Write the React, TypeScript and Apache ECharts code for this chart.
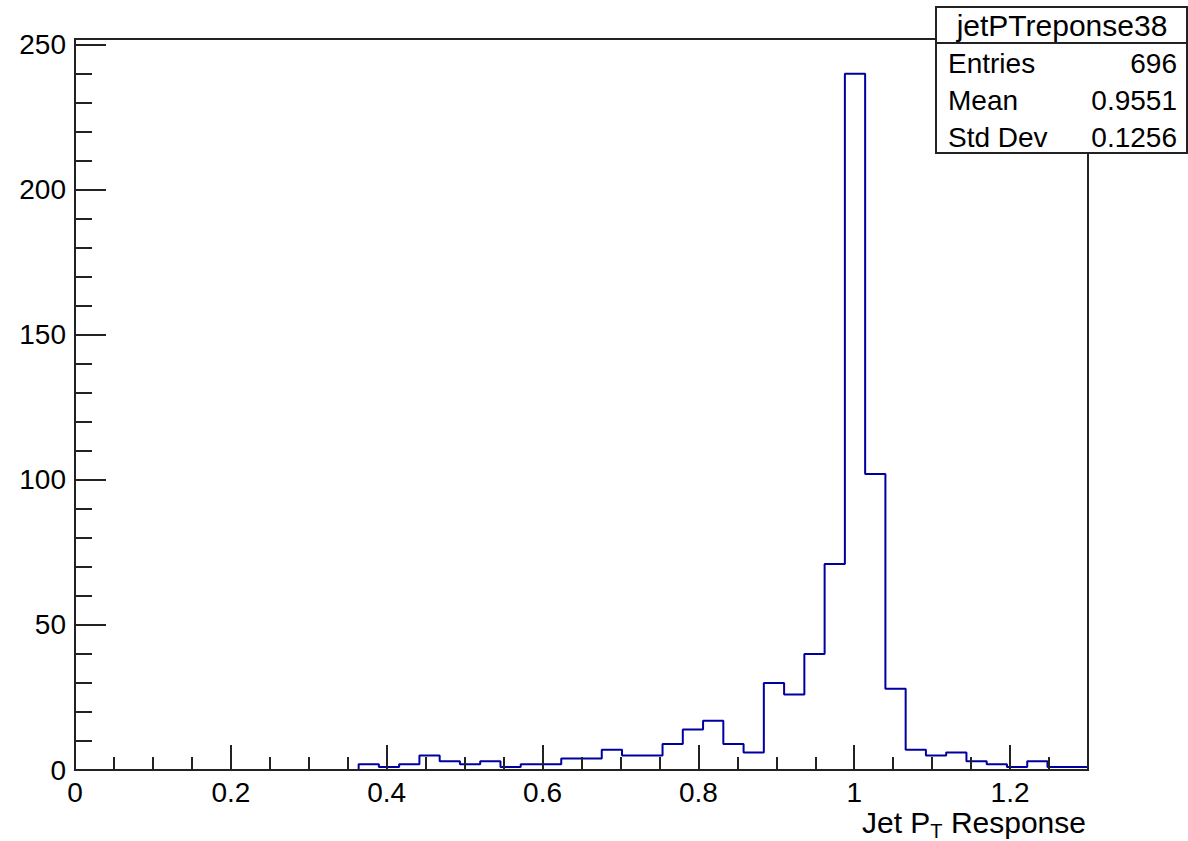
import React, { useEffect, useRef } from "react";
import * as echarts from "echarts";

// Histogram: 50 bins from 0 to 1.3
const xMin = 0;
const xMax = 1.3;
const nBins = 50;
const counts: number[] = [
  0, 0, 0, 0, 0, 0, 0, 0, 0, 0,
  0, 0, 0, 0, 2, 1, 2, 5, 3, 2,
  3, 1, 2, 2, 4, 4, 7, 5, 5, 9,
  14, 17, 9, 6, 30, 26, 40, 71, 240, 102,
  28, 7, 5, 6, 3, 2, 1, 3, 1, 1,
];
const xTickValues = [0, 0.2, 0.4, 0.6, 0.8, 1, 1.2];
const yTickValues = [0, 50, 100, 150, 200, 250];
const yMax = 252;

const statsTitle = "jetPTreponse38";
const statsNames = ["Entries", "Mean", "Std Dev"];
const statsValues = ["696", "0.9551", "0.1256"];

const FONT = "'Liberation Sans', Arial, Helvetica, sans-serif";

export default function App() {
  const ref = useRef<HTMLDivElement>(null);
  useEffect(() => {
    if (!ref.current) return;
    const chart = echarts.init(ref.current, undefined, { renderer: "svg" });
    const bw = (xMax - xMin) / nBins;
    const pts: number[][] = counts.map((c, i) => [xMin + i * bw, c]);
    pts.push([xMax, counts[counts.length - 1]]);

    const isTick = (v: number, list: number[]) => list.some((t) => Math.abs(t - v) < 1e-6);

    const gridLeft = 75, gridRight = 100, gridTop = 39, gridBottom = 71;

    const statsRows: any[] = [];
    const rowY = [63, 100, 137];
    statsNames.forEach((n, i) => {
      statsRows.push({
        type: "text", z: 101, x: 948, y: rowY[i],
        style: { text: n, fontSize: 28, fontFamily: FONT, fill: "#000", textAlign: "left", textVerticalAlign: "middle" },
      });
      statsRows.push({
        type: "text", z: 101, x: 1177, y: rowY[i],
        style: { text: statsValues[i], fontSize: 28, fontFamily: FONT, fill: "#000", textAlign: "right", textVerticalAlign: "middle" },
      });
    });

    chart.setOption({
      animation: false,
      grid: {
        left: gridLeft, right: gridRight, top: gridTop, bottom: gridBottom,
        show: true, borderColor: "#222", borderWidth: 2, backgroundColor: "transparent",
      },
      xAxis: [
        {
          type: "value", min: xMin, max: xMax, interval: 0.2, position: "bottom", z: 10,
          axisLine: { show: true, lineStyle: { color: "#222", width: 2 } },
          axisTick: { show: true, inside: true, length: 25, lineStyle: { color: "#222", width: 2 } },
          axisLabel: {
            show: true, fontSize: 28, fontFamily: FONT, color: "#000", margin: 8,
            formatter: (v: number) => (isTick(v, xTickValues) ? String(+v.toFixed(1)) : ""),
          },
          splitLine: { show: false },
        },
        {
          type: "value", min: xMin, max: xMax, interval: 0.05, position: "bottom", z: 10,
          axisLine: { show: false },
          axisTick: { show: true, inside: true, length: 13, lineStyle: { color: "#222", width: 2 } },
          axisLabel: { show: false },
          splitLine: { show: false },
        },
      ],
      yAxis: [
        {
          type: "value", min: 0, max: yMax, interval: 50, position: "left", z: 10,
          axisLine: { show: true, lineStyle: { color: "#222", width: 2 } },
          axisTick: { show: true, inside: true, length: 31, lineStyle: { color: "#222", width: 2 } },
          axisLabel: {
            show: true, fontSize: 28, fontFamily: FONT, color: "#000", margin: 9,
            formatter: (v: number) => (isTick(v, yTickValues) ? String(Math.round(v)) : ""),
          },
          splitLine: { show: false },
        },
        {
          type: "value", min: 0, max: yMax, interval: 10, position: "left", z: 10,
          axisLine: { show: false },
          axisTick: { show: true, inside: true, length: 17, lineStyle: { color: "#222", width: 2 } },
          axisLabel: { show: false },
          splitLine: { show: false },
        },
      ],
      series: [
        {
          type: "line",
          xAxisIndex: 0, yAxisIndex: 0,
          data: pts,
          step: "end",
          symbol: "none",
          clip: true,
          z: 2,
          lineStyle: { color: "#0000a0", width: 2 },
        },
      ],
      graphic: [
        {
          type: "text", z: 100, x: 1086, y: 822,
          style: {
            text: "{a|Jet P}{s|T}{a| Response}",
            textAlign: "right", textVerticalAlign: "middle",
            rich: {
              a: { fontSize: 30, fontFamily: FONT, fill: "#000", lineHeight: 32 },
              s: { fontSize: 20, fontFamily: FONT, fill: "#000", lineHeight: 32, padding: [18, 0, 0, 0] },
            },
          },
        },
        {
          type: "rect", z: 100,
          shape: { x: 936, y: 7, width: 251, height: 146 },
          style: { fill: "#fff", stroke: "#222", lineWidth: 2 },
        },
        {
          type: "line", z: 101,
          shape: { x1: 936, y1: 43, x2: 1187, y2: 43 },
          style: { stroke: "#222", lineWidth: 2 },
        },
        {
          type: "text", z: 101, x: 1062, y: 25,
          style: { text: statsTitle, fontSize: 30, fontFamily: FONT, fill: "#000", textAlign: "center", textVerticalAlign: "middle" },
        },
        ...statsRows,
      ],
    });
    return () => chart.dispose();
  }, []);
  return (
    <div
      ref={ref}
      style={{ position: "fixed", left: 0, top: 0, width: 1188, height: 841, background: "#fff" }}
    />
  );
}
